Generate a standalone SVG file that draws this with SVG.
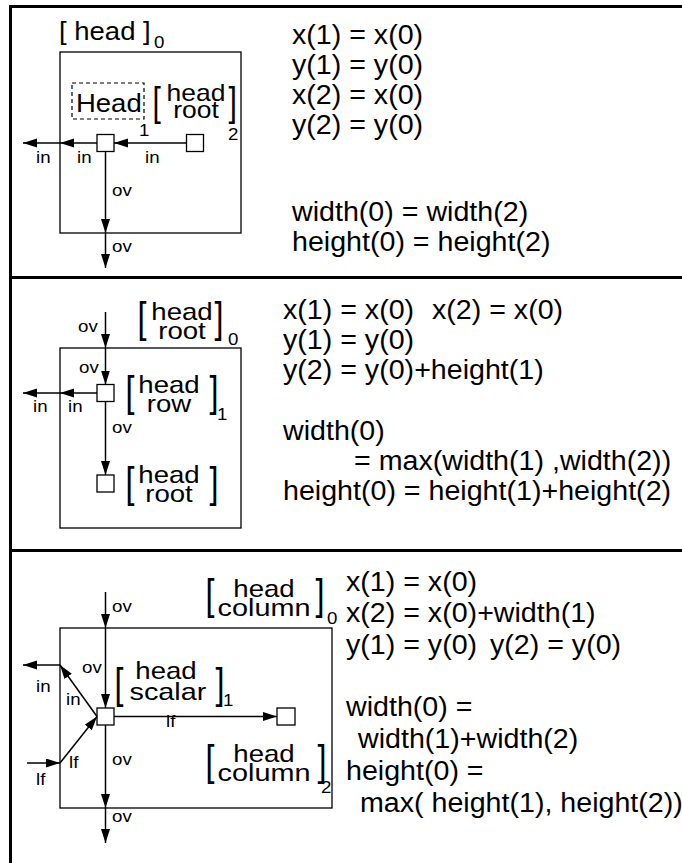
<svg xmlns="http://www.w3.org/2000/svg" width="682" height="863" viewBox="0 0 682 863">
<defs>
<marker id="ah" markerUnits="userSpaceOnUse" markerWidth="15" markerHeight="10" refX="14" refY="4.5" orient="auto"><path d="M0,0 L14,4.5 L0,9 Z" fill="#000"/></marker>
</defs>
<style>
text { font-family: "Liberation Sans", Arial, Helvetica, sans-serif; fill:#000; transform-box: fill-box; transform-origin: 0 0; transform: scaleX(1.1); }
.eq { font-size: 27px; transform: scaleX(1.06); }
.lb { font-size: 25px; }
.st { font-size: 24px; text-anchor: middle; transform-origin: 50% 50%; transform: scaleX(1.15); }
.wide { transform: scaleX(1.2); }
.st1 { font-size: 23px; text-anchor: middle; transform-origin: 50% 50%; transform: scaleX(1.15); }
.sub { font-size: 17px; }
.sm { font-size: 17px; }
.br { font-size: 43px; transform-origin: 50% 50%; transform: scaleX(0.75); }
.frame { stroke:#000; stroke-width:3; fill:none; }
.box { fill:none; stroke:#000; stroke-width:1.3; }
.nd { fill:#fff; stroke:#000; stroke-width:1.3; }
.cn { stroke:#000; stroke-width:1.5; fill:none; marker-end:url(#ah); }
.dash { fill:none; stroke:#000; stroke-width:1.2; stroke-dasharray:4 3; }
</style>
<rect width="682" height="863" fill="#fff"/>
<g id="frame">
<path class="frame" d="M10.5,863 V6.5 H682 M9,277.5 H682 M9,550.5 H682"/>
</g>

<!-- Panel 1 -->
<g id="p1-outer">
<rect class="box" x="60" y="52" width="181" height="181"/>
<text class="lb" x="59" y="40">[ head ]</text>
<text class="sub" x="154" y="48">0</text>
</g>
<g id="p1-head">
<rect class="dash" x="72" y="83" width="72" height="36"/>
<text class="lb" x="76" y="112">Head</text>
<text class="sub" x="139" y="136">1</text>
<rect class="nd" x="97" y="134.5" width="17" height="17"/>
</g>
<g id="p1-root">
<text class="br" x="151" y="116" style="font-size:40px">[</text>
<text class="st1" x="196" y="101">head</text>
<text class="st1" x="196" y="118">root</text>
<text class="br" x="227" y="116" style="font-size:40px">]</text>
<text class="sub" x="228" y="140">2</text>
<rect class="nd" x="186.5" y="134.5" width="17" height="17"/>
</g>
<g id="p1-connectors">
<path class="cn" d="M186.5,143 H114"/>
<path class="cn" d="M97,143 H60"/>
<path class="cn" d="M60,143 H23"/>
<path class="cn" d="M105.5,151.5 V233"/>
<path class="cn" d="M105.5,233 V268"/>
<text class="sm" x="36" y="163">in</text>
<text class="sm" x="77" y="163">in</text>
<text class="sm" x="145" y="163">in</text>
<text class="sm" x="112" y="196">ov</text>
<text class="sm" x="112" y="252">ov</text>
</g>
<g id="p1-eq">
<text class="eq" x="292" y="44">x(1) = x(0)</text>
<text class="eq" x="292" y="74">y(1) = y(0)</text>
<text class="eq" x="292" y="104">x(2) = x(0)</text>
<text class="eq" x="292" y="134">y(2) = y(0)</text>
<text class="eq" x="292" y="221">width(0) = width(2)</text>
<text class="eq" x="292" y="251">height(0) = height(2)</text>
</g>

<!-- Panel 2 -->
<g id="p2-outer">
<rect class="box" x="60" y="348" width="181" height="180"/>
<text class="br" x="136" y="332.5">[</text>
<text class="st" x="182" y="320">head</text>
<text class="st" x="182" y="339">root</text>
<text class="br" x="213" y="332.5">]</text>
<text class="sub" x="228" y="345">0</text>
</g>
<g id="p2-row">
<rect class="nd" x="97" y="384.5" width="17" height="17"/>
<text class="br" x="124" y="406.5">[</text>
<text class="st" x="169" y="393">head</text>
<text class="st" x="169" y="412">row</text>
<text class="br" x="208" y="406.5">]</text>
<text class="sub" x="217" y="420">1</text>
</g>
<g id="p2-root">
<rect class="nd" x="97" y="475" width="17" height="17"/>
<text class="br" x="124" y="497">[</text>
<text class="st" x="169" y="483">head</text>
<text class="st" x="169" y="502">root</text>
<text class="br" x="208" y="497">]</text>
</g>
<g id="p2-connectors">
<path class="cn" d="M105.5,312 V348"/>
<path class="cn" d="M105.5,348 V384.5"/>
<path class="cn" d="M105.5,401.5 V475"/>
<path class="cn" d="M97,393 H60"/>
<path class="cn" d="M60,393 H23"/>
<text class="sm" x="78" y="332">ov</text>
<text class="sm" x="79" y="373">ov</text>
<text class="sm" x="112" y="433">ov</text>
<text class="sm" x="33" y="412">in</text>
<text class="sm" x="68" y="412">in</text>
</g>
<g id="p2-eq">
<text class="eq" x="283" y="319">x(1) = x(0)</text>
<text class="eq" x="432" y="319">x(2) = x(0)</text>
<text class="eq" x="283" y="349">y(1) = y(0)</text>
<text class="eq" x="283" y="379">y(2) = y(0)+height(1)</text>
<text class="eq" x="283" y="440">width(0)</text>
<text class="eq" x="354" y="470">= max(width(1) ,width(2))</text>
<text class="eq" x="283" y="500">height(0) = height(1)+height(2)</text>
</g>

<!-- Panel 3 -->
<g id="p3-outer">
<rect class="box" x="60" y="628" width="272" height="180"/>
<text class="br" x="204" y="609">[</text>
<text class="st" x="264" y="597">head</text>
<text class="st wide" x="264" y="616">column</text>
<text class="br" x="314" y="609">]</text>
<text class="sub" x="327" y="624">0</text>
</g>
<g id="p3-scalar">
<rect class="nd" x="97" y="708" width="17" height="17"/>
<text class="br" x="113" y="698.5">[</text>
<text class="st" x="166" y="679">head</text>
<text class="st wide" x="168" y="700">scalar</text>
<text class="br" x="214" y="698.5">]</text>
<text class="sub" x="223" y="706">1</text>
</g>
<g id="p3-column">
<rect class="nd" x="277" y="708" width="18" height="17"/>
<text class="br" x="204" y="775.5">[</text>
<text class="st" x="264" y="762">head</text>
<text class="st wide" x="264" y="781">column</text>
<text class="br" x="316" y="775.5">]</text>
<text class="sub" x="321" y="793">2</text>
</g>
<g id="p3-connectors">
<path class="cn" d="M105.5,592 V628"/>
<path class="cn" d="M105.5,628 V708"/>
<path class="cn" d="M105.5,725 V808"/>
<path class="cn" d="M105.5,808 V843"/>
<path class="cn" d="M114,716.5 H277"/>
<path class="cn" d="M97,716.5 L60,665"/>
<path class="cn" d="M60,665 H23"/>
<path class="cn" d="M27,763 H60"/>
<path class="cn" d="M60,763 L97,716.5"/>
<text class="sm" x="112" y="612">ov</text>
<text class="sm" x="82" y="673">ov</text>
<text class="sm" x="36" y="692">in</text>
<text class="sm" x="66" y="705">in</text>
<text class="sm" x="166" y="727">lf</text>
<text class="sm" x="69" y="768">lf</text>
<text class="sm" x="112" y="765">ov</text>
<text class="sm" x="36" y="785">lf</text>
<text class="sm" x="112" y="822">ov</text>
</g>
<g id="p3-eq">
<text class="eq" x="346" y="591">x(1) = x(0)</text>
<text class="eq" x="346" y="622">x(2) = x(0)+width(1)</text>
<text class="eq" x="346" y="654">y(1) = y(0)</text>
<text class="eq" x="490" y="654">y(2) = y(0)</text>
<text class="eq" x="346" y="716">width(0) =</text>
<text class="eq" x="358" y="748">width(1)+width(2)</text>
<text class="eq" x="346" y="780">height(0) =</text>
<text class="eq" x="360" y="812">max( height(1), height(2))</text>
</g>
</svg>
